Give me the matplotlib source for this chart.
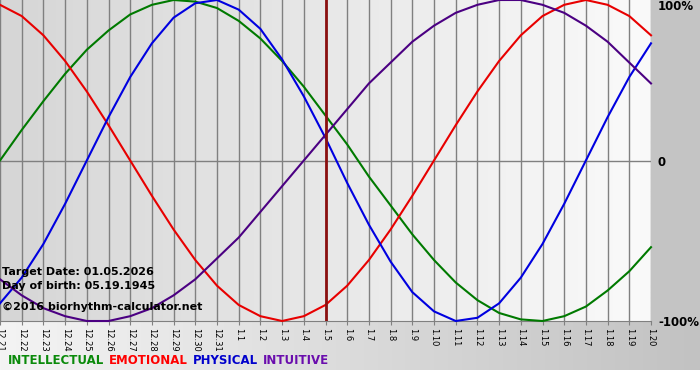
import matplotlib
matplotlib.use("Agg")
import matplotlib.pyplot as plt
import numpy as np
from matplotlib.colors import LinearSegmentedColormap
from matplotlib.patches import Rectangle

# dates on the x axis (month.day), target is 1.5
days = ['12.21', '12.22', '12.23', '12.24', '12.25', '12.26', '12.27', '12.28',
        '12.29', '12.30', '12.31', '1.1', '1.2', '1.3', '1.4', '1.5', '1.6', '1.7',
        '1.8', '1.9', '1.10', '1.11', '1.12', '1.13', '1.14', '1.15', '1.16',
        '1.17', '1.18', '1.19', '1.20']
target_day = '1.5'

# values, -1 .. 1
intellectual = [0.00, 0.19, 0.37, 0.54, 0.69, 0.81, 0.91, 0.97, 1.00, 0.99, 0.95,
                0.87, 0.76, 0.62, 0.46, 0.28, 0.10, -0.10, -0.28, -0.46, -0.62,
                -0.76, -0.87, -0.95, -0.99, -1.00, -0.97, -0.91, -0.81, -0.69, -0.54]
emotional = [0.97, 0.90, 0.78, 0.62, 0.43, 0.22, 0.00, -0.22, -0.43, -0.62, -0.78,
             -0.90, -0.97, -1.00, -0.97, -0.90, -0.78, -0.62, -0.43, -0.22, 0.00,
             0.22, 0.43, 0.62, 0.78, 0.90, 0.97, 1.00, 0.97, 0.90, 0.78]
physical = [-0.89, -0.73, -0.52, -0.27, 0.00, 0.27, 0.52, 0.73, 0.89, 0.98, 1.00,
            0.94, 0.82, 0.63, 0.40, 0.14, -0.14, -0.40, -0.63, -0.82, -0.94, -1.00,
            -0.98, -0.89, -0.73, -0.52, -0.27, 0.00, 0.27, 0.52, 0.73]
intuitive = [-0.74, -0.84, -0.92, -0.97, -1.00, -1.00, -0.97, -0.92, -0.84, -0.74,
             -0.61, -0.48, -0.32, -0.16, 0.00, 0.16, 0.32, 0.48, 0.61, 0.74, 0.84,
             0.92, 0.97, 1.00, 1.00, 0.97, 0.92, 0.84, 0.74, 0.61, 0.48]

series = [('INTELLECTUAL', intellectual, '#007a00', '#0a8a0a'),
          ('EMOTIONAL', emotional, '#e80000', '#ff0000'),
          ('PHYSICAL', physical, '#0000e0', '#0000cc'),
          ('INTUITIVE', intuitive, '#4b0082', '#6a0dad')]

info = ['Target Date: 01.05.2026', 'Day of birth: 05.19.1945', '\u00a92016 biorhythm-calculator.net']

W, H = 700, 380
fig = plt.figure(figsize=(7, 3.8), dpi=100)

# background: gray frame with gradient under the axis labels
bg = fig.add_axes([0, 0, 1, 1])
bg.axis('off')
bottom_cmap = LinearSegmentedColormap.from_list('bot', ['#f4f4f4', '#c2c2c2'])
bg.imshow(np.linspace(0, 1, 256)[None, :], cmap=bottom_cmap, aspect='auto',
          extent=[0, W, 370, 0])
bg.add_patch(Rectangle((651, 0), 49, 321, color='#c4c4c4', lw=0))
bg.add_patch(Rectangle((0, 370), W, 10, color='white', lw=0))
bg.set_xlim(0, W)
bg.set_ylim(H, 0)

ax = fig.add_axes([0, 1 - 321 / H, 651 / W, 321 / H])
x = np.arange(len(days))
area_cmap = LinearSegmentedColormap.from_list('area', ['#d6d6d6', '#fafafa'])
ax.imshow(np.linspace(0, 1, 256)[None, :], cmap=area_cmap, aspect='auto',
          extent=[0, len(days) - 1, -1, 1], zorder=0)

ax.set_xticks(x)
ax.set_xticklabels(days, rotation=-90, fontsize=6)
ax.grid(axis='x', color='#808080', lw=1, zorder=1)
ax.axhline(0, color='#808080', lw=1, zorder=1)
ax.tick_params(axis='x', length=3, color='#808080', pad=2)

ax.yaxis.tick_right()
ax.set_yticks([-1, 0, 1])
ax.set_yticklabels(['-100%', '0', '100%'], fontsize=8.5, fontweight='bold')
ax.tick_params(axis='y', length=0, pad=5)
ax.get_yticklabels()[2].set_va('top')

for s in ['top', 'left', 'right']:
    ax.spines[s].set_visible(False)
ax.spines['bottom'].set_color('#808080')

for name, vals, lc, tc in series:
    ax.plot(x, vals, color=lc, lw=1.5, zorder=3, clip_on=False)

ax.axvline(days.index(target_day), color='#8b1010', lw=2, zorder=4)
ax.set_xlim(0, len(days) - 1)
ax.set_ylim(-1, 1)

for i, t in enumerate(info):
    fig.text(2 / W, 1 - [272, 286, 307][i] / H, t, fontsize=8, fontweight='bold',
             va='center', ha='left', color='black')

# legend words in a row
fig.canvas.draw()
r = fig.canvas.get_renderer()
xpos = 8
for name, vals, lc, tc in series:
    t = fig.text(xpos / W, 1 - 361 / H, name, fontsize=8.5, fontweight='bold',
                 color=tc, va='center', ha='left')
    bb = t.get_window_extent(renderer=r)
    xpos += bb.width + 5

fig.savefig('out.png', dpi=100)
